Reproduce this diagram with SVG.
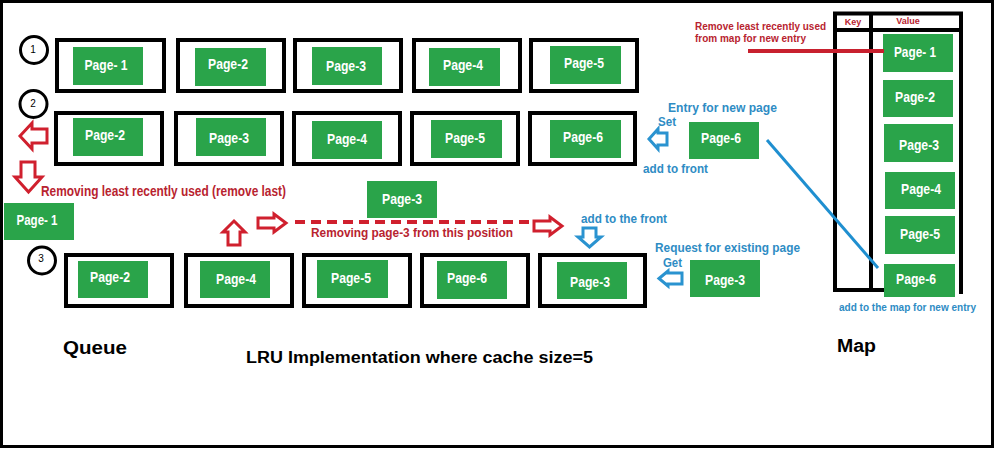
<svg xmlns="http://www.w3.org/2000/svg" width="995" height="449" viewBox="0 0 995 449">
<style>
.box{fill:#fff;stroke:#000;stroke-width:4}
.pg{fill:#2aa44a}
.pt{font-family:"Liberation Sans",Arial,sans-serif;font-weight:bold;font-size:14px;fill:#fff;text-anchor:middle}
.circ{fill:#fff;stroke:#000;stroke-width:3}
.num{font-family:"Liberation Sans",Arial,sans-serif;font-size:10px;fill:#000;text-anchor:middle}
.rt{font-family:"Liberation Sans",Arial,sans-serif;font-weight:bold;fill:#b8232f}
.bt{font-family:"Liberation Sans",Arial,sans-serif;font-weight:bold;fill:#2e8cc4}
.kt{font-family:"Liberation Sans",Arial,sans-serif;font-weight:bold;fill:#000}
.rarr{fill:#fff;stroke:#d0202e;stroke-width:3;stroke-linejoin:miter}
.barr{fill:#fff;stroke:#2a93d0;stroke-width:3;stroke-linejoin:miter}
.tl{stroke:#000;stroke-width:4;fill:none}
</style>
<rect x="1.5" y="1.5" width="991" height="445" fill="#fff" stroke="#000" stroke-width="3"/>

<!-- Row 1 -->
<g id="row1-step">
<circle class="circ" cx="34" cy="50" r="13.5"/><text class="num" x="33" y="53">1</text>
</g>
<g id="r1-page1"><rect class="box" x="57" y="40" width="107" height="51"/><rect class="pg" x="73" y="47" width="70" height="38"/><text class="pt" x="106" y="70" textLength="43" lengthAdjust="spacingAndGlyphs">Page- 1</text></g>
<g id="r1-page2"><rect class="box" x="178" y="40" width="106" height="51"/><rect class="pg" x="195" y="48" width="71" height="38"/><text class="pt" x="228" y="69" textLength="40" lengthAdjust="spacingAndGlyphs">Page-2</text></g>
<g id="r1-page3"><rect class="box" x="295" y="40" width="106" height="51"/><rect class="pg" x="312" y="47" width="70" height="38"/><text class="pt" x="346" y="71" textLength="40" lengthAdjust="spacingAndGlyphs">Page-3</text></g>
<g id="r1-page4"><rect class="box" x="414" y="40" width="106" height="51"/><rect class="pg" x="429" y="48" width="71" height="38"/><text class="pt" x="463" y="70" textLength="40" lengthAdjust="spacingAndGlyphs">Page-4</text></g>
<g id="r1-page5"><rect class="box" x="531" y="40" width="106" height="51"/><rect class="pg" x="550" y="46" width="71" height="38"/><text class="pt" x="584" y="68" textLength="40" lengthAdjust="spacingAndGlyphs">Page-5</text></g>

<!-- Row 2 -->
<g id="row2-step">
<circle class="circ" cx="33.5" cy="104" r="13.5"/><text class="num" x="33" y="107">2</text>
</g>
<g id="r2-page2"><rect class="box" x="56" y="113" width="106" height="51"/><rect class="pg" x="73" y="118" width="70" height="38"/><text class="pt" x="105" y="140" textLength="40" lengthAdjust="spacingAndGlyphs">Page-2</text></g>
<g id="r2-page3"><rect class="box" x="176" y="113" width="106" height="51"/><rect class="pg" x="196" y="118" width="70" height="38"/><text class="pt" x="229" y="143" textLength="40" lengthAdjust="spacingAndGlyphs">Page-3</text></g>
<g id="r2-page4"><rect class="box" x="294" y="113" width="106" height="51"/><rect class="pg" x="312" y="121" width="70" height="38"/><text class="pt" x="347" y="144" textLength="40" lengthAdjust="spacingAndGlyphs">Page-4</text></g>
<g id="r2-page5"><rect class="box" x="412" y="113" width="106" height="51"/><rect class="pg" x="431" y="120" width="71" height="38"/><text class="pt" x="465" y="143" textLength="40" lengthAdjust="spacingAndGlyphs">Page-5</text></g>
<g id="r2-page6"><rect class="box" x="530" y="113" width="105" height="51"/><rect class="pg" x="550" y="120" width="71" height="38"/><text class="pt" x="583" y="142" textLength="40" lengthAdjust="spacingAndGlyphs">Page-6</text></g>

<!-- Removed pages -->
<g id="removed-page1"><rect class="pg" x="4" y="203" width="70" height="37"/><text class="pt" x="37" y="225" textLength="41" lengthAdjust="spacingAndGlyphs">Page- 1</text></g>
<g id="removed-page3"><rect class="pg" x="367" y="181" width="70" height="37"/><text class="pt" x="402" y="204" textLength="40" lengthAdjust="spacingAndGlyphs">Page-3</text></g>

<!-- Row 3 -->
<g id="row3-step">
<circle class="circ" cx="42" cy="260.5" r="13.5"/><text class="num" x="41" y="262">3</text>
</g>
<g id="r3-page2"><rect class="box" x="66" y="255" width="106" height="51"/><rect class="pg" x="78" y="261" width="70" height="37"/><text class="pt" x="110" y="282" textLength="40" lengthAdjust="spacingAndGlyphs">Page-2</text></g>
<g id="r3-page4"><rect class="box" x="186" y="255" width="106" height="51"/><rect class="pg" x="200" y="261" width="70" height="37"/><text class="pt" x="236" y="284" textLength="40" lengthAdjust="spacingAndGlyphs">Page-4</text></g>
<g id="r3-page5"><rect class="box" x="304" y="255" width="106" height="51"/><rect class="pg" x="317" y="260" width="71" height="38"/><text class="pt" x="351" y="283" textLength="40" lengthAdjust="spacingAndGlyphs">Page-5</text></g>
<g id="r3-page6"><rect class="box" x="422" y="255" width="106" height="51"/><rect class="pg" x="437" y="261" width="70" height="38"/><text class="pt" x="467" y="283" textLength="40" lengthAdjust="spacingAndGlyphs">Page-6</text></g>
<g id="r3-page3"><rect class="box" x="540" y="255" width="105" height="51"/><rect class="pg" x="557" y="262" width="70" height="37"/><text class="pt" x="590" y="287" textLength="40" lengthAdjust="spacingAndGlyphs">Page-3</text></g>

<!-- Incoming pages -->
<g id="set-page6"><rect class="pg" x="689" y="122" width="70" height="37"/><text class="pt" x="721" y="143" textLength="40" lengthAdjust="spacingAndGlyphs">Page-6</text></g>
<g id="get-page3"><rect class="pg" x="690" y="260" width="70" height="37"/><text class="pt" x="725" y="285" textLength="40" lengthAdjust="spacingAndGlyphs">Page-3</text></g>

<!-- Map -->
<g id="map">
<line class="tl" x1="835" y1="12" x2="835" y2="292"/>
<line class="tl" x1="871" y1="12" x2="871" y2="292"/>
<line class="tl" x1="961" y1="12" x2="961" y2="294"/>
<line class="tl" x1="833" y1="13.5" x2="963" y2="13.5"/>
<line class="tl" x1="833" y1="30" x2="963" y2="30"/>
<line class="tl" x1="833" y1="290" x2="884" y2="290"/>
<text class="rt" x="853" y="25" font-size="9" text-anchor="middle">Key</text>
<text class="rt" x="908" y="24" font-size="9" text-anchor="middle">Value</text>
</g>
<g id="map-page1"><rect class="pg" x="883" y="34" width="70" height="38"/><text class="pt" x="915" y="57" textLength="42" lengthAdjust="spacingAndGlyphs">Page- 1</text></g>
<g id="map-page2"><rect class="pg" x="883" y="80" width="70" height="37"/><text class="pt" x="915" y="102" textLength="40" lengthAdjust="spacingAndGlyphs">Page-2</text></g>
<g id="map-page3"><rect class="pg" x="884" y="124" width="69" height="38"/><text class="pt" x="919" y="150" textLength="40" lengthAdjust="spacingAndGlyphs">Page-3</text></g>
<g id="map-page4"><rect class="pg" x="885" y="172" width="70" height="37"/><text class="pt" x="921" y="194" textLength="40" lengthAdjust="spacingAndGlyphs">Page-4</text></g>
<g id="map-page5"><rect class="pg" x="885" y="216" width="70" height="38"/><text class="pt" x="920" y="239" textLength="40" lengthAdjust="spacingAndGlyphs">Page-5</text></g>
<g id="map-page6"><rect class="pg" x="884" y="264" width="71" height="33"/><text class="pt" x="916" y="284" textLength="40" lengthAdjust="spacingAndGlyphs">Page-6</text></g>

<!-- Connectors -->
<g id="connectors">
<line x1="748" y1="51" x2="884" y2="51" stroke="#c8202e" stroke-width="4"/>
<line x1="767" y1="140" x2="878" y2="268" stroke="#1f8fd0" stroke-width="3"/>
<line x1="295" y1="222" x2="530" y2="222" stroke="#d0202e" stroke-width="4" stroke-dasharray="10 6"/>
<polygon class="rarr" points="20,136 32,123 32,129 47,129 47,143 32,143 32,149"/>
<polygon class="rarr" points="21,162 35,162 35,177 42,177 28.5,192 15,177 21,177"/>
<polygon class="rarr" points="234,221 245,232 240,232 240,245 228,245 228,232 223,232"/>
<polygon class="rarr" points="258,218 274,218 274,214 286,223 274,232 274,228 258,228"/>
<polygon class="rarr" points="534,221 550,221 550,217 562,226 550,235 550,231 534,231"/>
<polygon class="barr" points="583,228 596,228 596,237 601,237 589.5,247 578,237 583,237"/>
<polygon class="barr" points="649,139 658,129 658,133 667,133 667,145 658,145 658,149"/>
<polygon class="barr" points="659,278.5 668,271 668,273 682,273 682,284 668,284 668,286"/>
</g>

<!-- Labels -->
<g id="labels">
<text class="rt" x="41" y="196" font-size="14" textLength="245" lengthAdjust="spacingAndGlyphs">Removing least recently used (remove last)</text>
<text class="rt" x="311" y="237" font-size="13" textLength="202" lengthAdjust="spacingAndGlyphs">Removing page-3 from this position</text>
<text class="rt" x="695" y="30" font-size="11" textLength="131" lengthAdjust="spacingAndGlyphs">Remove least recently used</text>
<text class="rt" x="695" y="42" font-size="11" textLength="111" lengthAdjust="spacingAndGlyphs">from map for new entry</text>
<text class="bt" x="668" y="112" font-size="12" textLength="109" lengthAdjust="spacingAndGlyphs">Entry for new page</text>
<text class="bt" x="658" y="125.5" font-size="12" textLength="18" lengthAdjust="spacingAndGlyphs">Set</text>
<text class="bt" x="643" y="173" font-size="13" textLength="65" lengthAdjust="spacingAndGlyphs">add to front</text>
<text class="bt" x="581" y="223" font-size="12" textLength="86" lengthAdjust="spacingAndGlyphs">add to the front</text>
<text class="bt" x="655" y="252" font-size="13" textLength="145" lengthAdjust="spacingAndGlyphs">Request for existing page</text>
<text class="bt" x="663" y="267" font-size="13" textLength="19" lengthAdjust="spacingAndGlyphs">Get</text>
<text class="bt" x="839" y="311" font-size="10" textLength="137" lengthAdjust="spacingAndGlyphs">add to the map for new entry</text>
<text class="kt" x="63" y="354" font-size="18" textLength="64" lengthAdjust="spacingAndGlyphs">Queue</text>
<text class="kt" x="246" y="363" font-size="16" textLength="347" lengthAdjust="spacingAndGlyphs">LRU Implementation where cache size=5</text>
<text class="kt" x="837" y="352" font-size="18" textLength="39" lengthAdjust="spacingAndGlyphs">Map</text>
</g>
</svg>
